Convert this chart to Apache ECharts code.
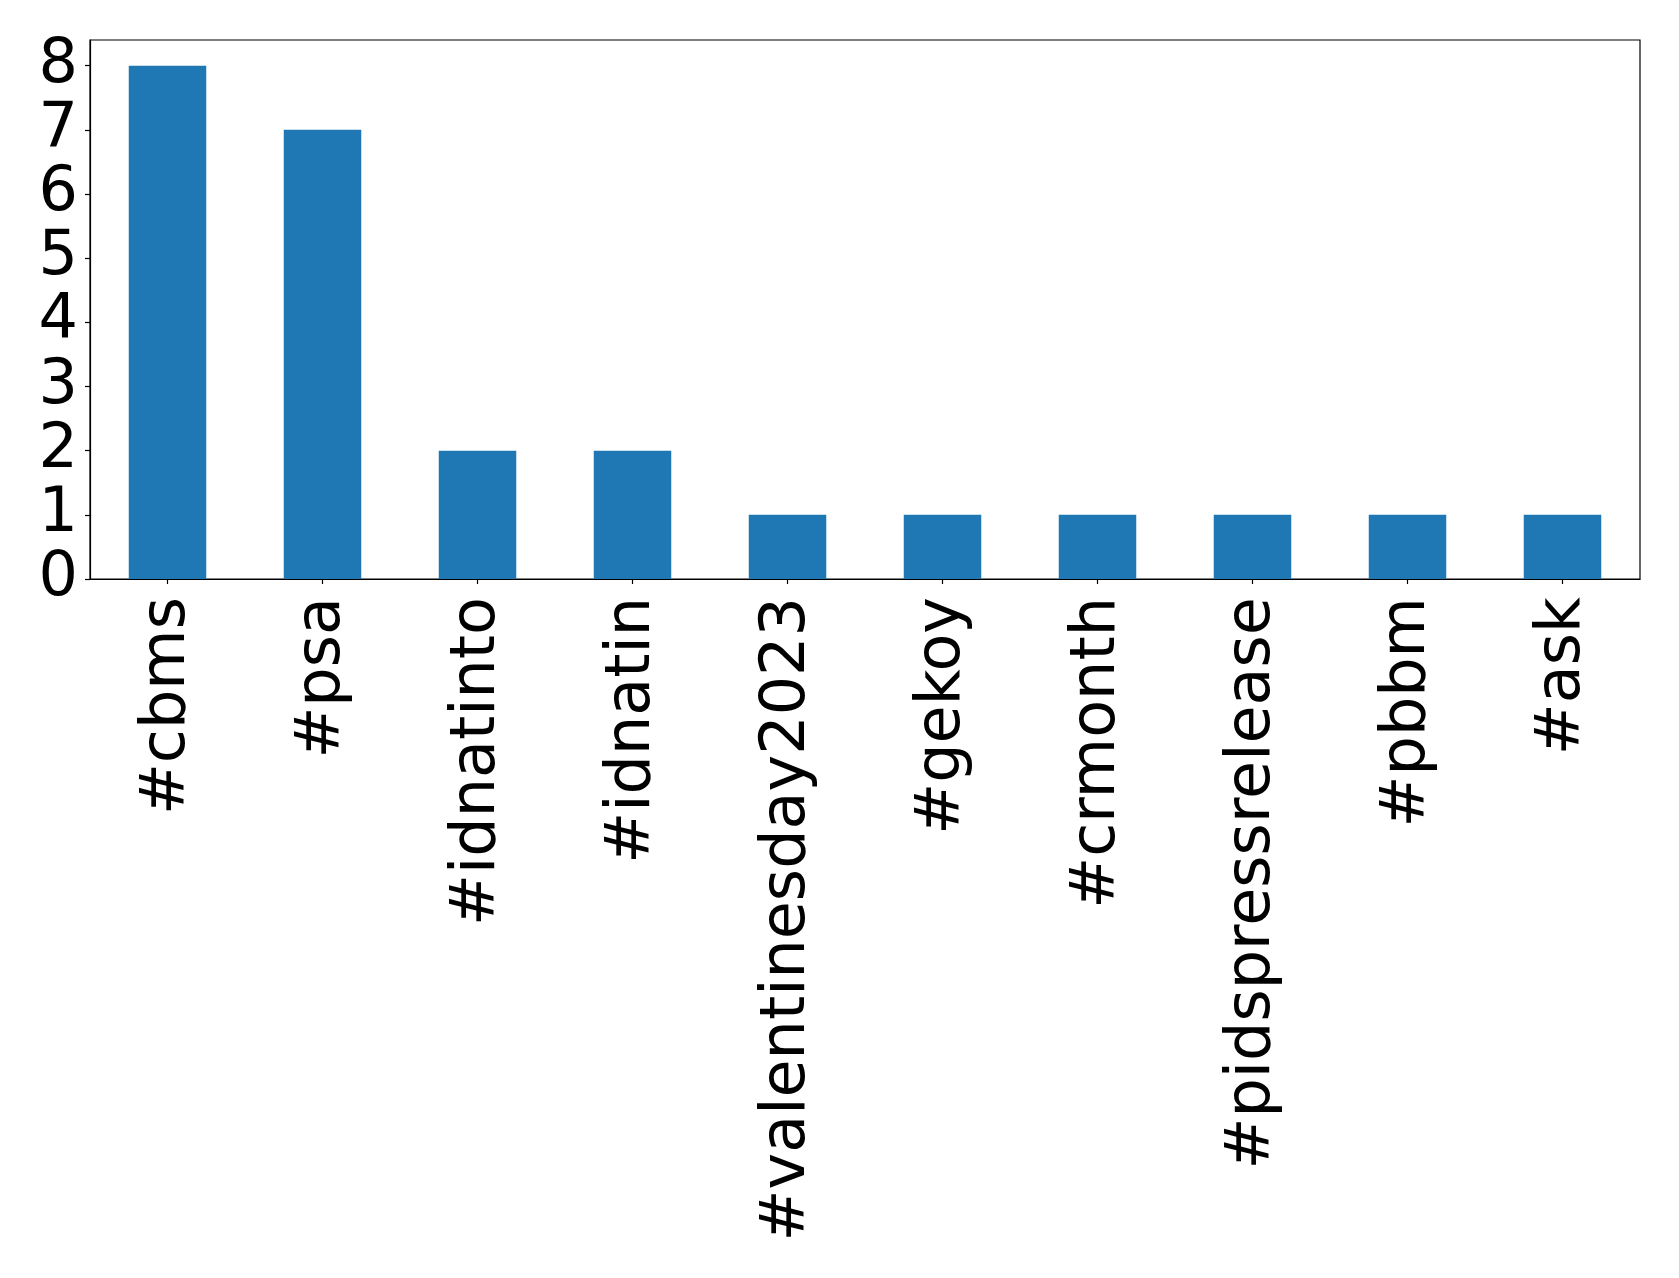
<!DOCTYPE html>
<html>
<head>
<meta charset="utf-8">
<script src="https://cdn.jsdelivr.net/npm/echarts@6/dist/echarts.min.js"></script>
<style>
html,body{margin:0;padding:0;background:#fff;}
#chart{width:1679px;height:1278px;}
</style>
</head>
<body>
<div id="chart"></div>
<script>
const categories = ['#cbms', '#psa', '#idnatinto', '#idnatin', '#valentinesday2023', '#gekoy', '#crmonth', '#pidspressrelease', '#pbbm', '#ask'];
const counts = [8, 7, 2, 2, 1, 1, 1, 1, 1, 1];
const yTicks = [0, 1, 2, 3, 4, 5, 6, 7, 8];

const chart = echarts.init(document.getElementById('chart'), null, {renderer: 'canvas'});
const font = 'DejaVu Sans';
chart.setOption({
  animation: false,
  backgroundColor: '#ffffff',
  grid: {
    left: 90, right: 39, top: 40, bottom: 699,
    show: true, borderColor: '#000', borderWidth: 1.2, backgroundColor: 'transparent'
  },
  xAxis: {
    type: 'category',
    data: categories,
    boundaryGap: true,
    axisLine: {show: true, lineStyle: {color: '#000', width: 1.2}},
    axisTick: {show: true, alignWithLabel: true, length: 5, lineStyle: {color: '#000', width: 1.2}},
    axisLabel: {rotate: 90, interval: 0, margin: 18, fontFamily: font, fontSize: 62, color: '#000'},
    splitLine: {show: false}
  },
  yAxis: {
    type: 'value',
    min: 0, max: 8.4,
    interval: 1,
    axisLine: {show: true, lineStyle: {color: '#000', width: 1.2}},
    axisTick: {show: true, length: 5, customValues: yTicks, lineStyle: {color: '#000', width: 1.2}},
    axisLabel: {customValues: yTicks, margin: 12, fontFamily: font, fontSize: 62, color: '#000'},
    splitLine: {show: false}
  },
  series: [{
    type: 'bar',
    data: counts,
    barWidth: '50%',
    itemStyle: {color: '#1f77b4'}
  }]
});
</script>
</body>
</html>
